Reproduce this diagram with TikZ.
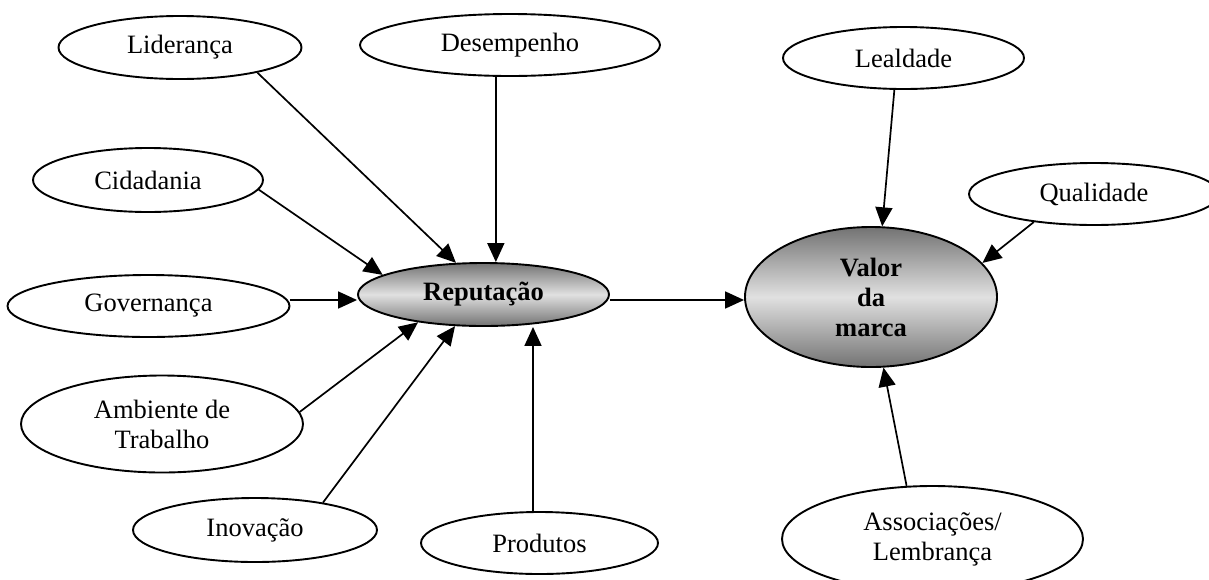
\documentclass[tikz,border=0pt]{standalone}
\usepackage{fontspec}
\setmainfont{Liberation Serif}
\usetikzlibrary{shapes.geometric,arrows.meta}
\begin{document}
\begin{tikzpicture}[x=1pt,y=1pt,
  oval/.style={ellipse,draw,line width=1.9pt,inner sep=0pt,align=center,
    font=\fontsize{26.5}{30}\selectfont},
  keyoval/.style={oval,top color=black!55,bottom color=black!55,middle color=black!12,
    font=\fontsize{26.5}{30}\selectfont\bfseries},
  arr/.style={line width=1.7pt,-{Triangle[length=19pt,width=17pt]}}]
\useasboundingbox (0,0) rectangle (1209,-579);

% factors on the reputation side
\node[oval,minimum width=243,minimum height=63] (lid) at (180,-47.5) {Liderança};
\node[oval,minimum width=300,minimum height=62] (des) at (510,-45) {Desempenho};
\node[oval,minimum width=230,minimum height=64] (cid) at (148,-180) {Cidadania};
\node[oval,minimum width=282,minimum height=62] (gov) at (148.5,-306) {Governança};
\node[oval,minimum width=282,minimum height=97] (amb) at (162,-424) {Ambiente de\\Trabalho};
\node[oval,minimum width=244,minimum height=64] (ino) at (255,-530) {Inovação};
\node[oval,minimum width=237,minimum height=62] (prod) at (539.5,-543) {Produtos};

% factors on the brand-value side
\node[oval,minimum width=241,minimum height=62] (leal) at (903.5,-58) {Lealdade};
\node[oval,minimum width=250,minimum height=62] (qual) at (1094,-194) {Qualidade};
\node[oval,minimum width=301,minimum height=106] (assoc) at (932.5,-539) {Associações/\\Lembrança};

% central concepts
\node[keyoval,minimum width=251,minimum height=63] (rep) at (483.5,-294.5) {Reputação};
\node[keyoval,minimum width=252,minimum height=140] (val) at (871,-297) {Valor\\da\\marca};

% influences on reputation
\draw[arr] (lid.-18) -- (rep.131);
\draw[arr] (des.-114) -- (des.-114 |- rep.north);
\draw[arr] (cid.-5) -- (rep.169);
\draw[arr] ([yshift=6pt]gov.east) -- ([yshift=6pt]gov.east -| rep.west);
\draw[arr] (amb.5.5) -- (rep.-157);
\draw[arr] (ino.22) -- (rep.-132);
\draw[arr] ([xshift=-6.5pt]prod.north) -- ([xshift=-6.5pt]prod.north |- rep.south);

% reputation and other factors feed brand value
\draw[arr] ([yshift=-5.5pt]rep.east) -- ([yshift=-5.5pt]rep.east -| val.west);
\draw[arr] (leal.-106) -- (val.81);
\draw[arr] (qual.-155) -- (val.17);
\draw[arr] (assoc.116) -- (val.-80);
\end{tikzpicture}
\end{document}
